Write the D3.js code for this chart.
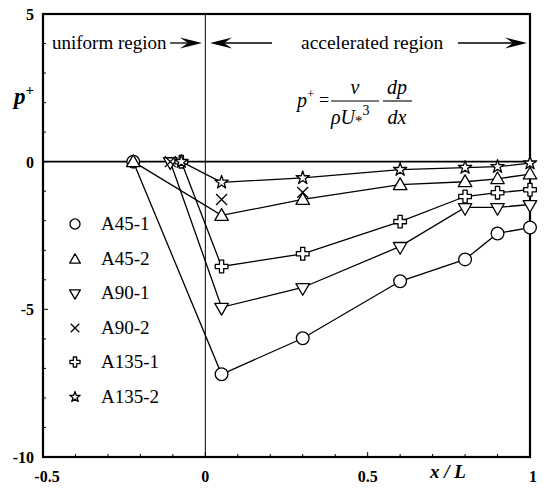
<!DOCTYPE html>
<html><head><meta charset="utf-8">
<script src="https://cdn.jsdelivr.net/npm/d3@7"></script>
<style>body{margin:0;background:#fff}svg{display:block}</style>
</head><body>
<svg id="c" width="548" height="488"></svg>
<script>
const seriesNames = ["A45-1","A45-2","A90-1","A90-2","A135-1","A135-2"];
const markerTypes = ["circle","triUp","triDown","times","cross","star"];
const connected = [true,true,true,false,true,true];
const xA45 = [-0.222,0.05,0.3,0.6,0.8,0.9,1.0];
const xA90 = [-0.108,0.05,0.3,0.6,0.8,0.9,1.0];
const xA135 = [-0.074,0.05,0.3,0.6,0.8,0.9,1.0];
const xA90b = [-0.108,0.05,0.3];
const yA45_1 = [0,-7.2,-5.98,-4.05,-3.31,-2.43,-2.23];
const yA45_2 = [0,-1.82,-1.28,-0.78,-0.68,-0.58,-0.42];
const yA90_1 = [0,-4.93,-4.26,-2.87,-1.55,-1.55,-1.45];
const yA90_2 = [0,-1.28,-1.04];
const yA135_1 = [0,-3.55,-3.12,-2.03,-1.18,-1.05,-0.95];
const yA135_2 = [0,-0.7,-0.55,-0.27,-0.2,-0.17,-0.05];
const xTickLabels = ["-0.5","0","0.5","1"];
const yTickLabels = ["5","0","-5","-10"];
const xTickVals = [-0.5,0,0.5,1];
const yTickVals = [5,0,-5,-10];

const seriesX = [xA45,xA45,xA90,xA90b,xA135,xA135];
const seriesY = [yA45_1,yA45_2,yA90_1,yA90_2,yA135_1,yA135_2];

const svg = d3.select("#c");
const L=43,R=530,T=14,B=457;
const x = d3.scaleLinear().domain([-0.5,1]).range([L,R]);
const y = d3.scaleLinear().domain([-10,5]).range([B,T]);
const serif = "'Liberation Serif','Times New Roman',serif";

// reference lines
svg.append("line").attr("x1",x(0)).attr("x2",x(0)).attr("y1",T).attr("y2",B)
  .attr("stroke","#000").attr("stroke-width",1);
svg.append("line").attr("x1",L).attr("x2",R).attr("y1",y(0)).attr("y2",y(0))
  .attr("stroke","#000").attr("stroke-width",1.8);

// minor ticks
const gTicks = svg.append("g").attr("stroke","#000").attr("stroke-width",1);
d3.range(-10,6,1).forEach(v=>{
  const len = (v%5===0)?5:3;
  gTicks.append("line").attr("x1",L).attr("x2",L+len).attr("y1",y(v)).attr("y2",y(v));
});
d3.range(-0.5,1.0001,0.1).forEach(v=>{
  const r = Math.round(v*10);
  const len = (r%5===0)?5:3;
  gTicks.append("line").attr("x1",x(v)).attr("x2",x(v)).attr("y1",B).attr("y2",B-len);
});

// frame
svg.append("rect").attr("x",L).attr("y",T).attr("width",R-L).attr("height",B-T)
  .attr("fill","none").attr("stroke","#000").attr("stroke-width",2.2);

// tick labels
svg.append("g").selectAll("text").data(yTickVals).join("text")
  .attr("x",34).attr("y",d=>y(d)+6).attr("text-anchor","end")
  .attr("font-family",serif).attr("font-size",16).attr("font-weight","bold")
  .text((d,i)=>yTickLabels[i]);
svg.append("g").selectAll("text").data(xTickVals).join("text")
  .attr("x",(d,i)=>x(d)+(i===0?4:(i===3?3:0))).attr("y",482).attr("text-anchor","middle")
  .attr("font-family",serif).attr("font-size",16).attr("font-weight","bold")
  .text((d,i)=>xTickLabels[i]);

// axis titles
svg.append("text").attr("x",448).attr("y",478).attr("text-anchor","middle")
  .attr("font-family",serif).attr("font-style","italic").attr("font-size",19).attr("font-weight","bold")
  .text("x / L");
const pt = svg.append("text").attr("x",14).attr("y",104)
  .attr("font-family",serif).attr("font-style","italic").attr("font-size",23).attr("font-weight","bold");
pt.append("tspan").text("p");
pt.append("tspan").attr("dy",-9).attr("font-size",15).attr("font-style","normal").text("+");

// region annotations
svg.append("text").attr("x",52).attr("y",49).attr("font-family",serif).attr("font-size",19)
  .text("uniform region");
svg.append("text").attr("x",301).attr("y",49).attr("font-family",serif).attr("font-size",19.5)
  .text("accelerated region");
function arrow(x1,x2,yy){
  const dir = Math.sign(x2-x1);
  svg.append("line").attr("x1",x1).attr("x2",x2-dir*4).attr("y1",yy).attr("y2",yy)
    .attr("stroke","#000").attr("stroke-width",1.3);
  svg.append("path")
    .attr("d",`M${x2},${yy} L${x2-dir*22},${yy-5.5} L${x2-dir*14},${yy} L${x2-dir*22},${yy+5.5} Z`)
    .attr("fill","#000");
}
arrow(170,202,43);
arrow(272,210,43);
arrow(458,527,43);

// formula
const fg = svg.append("g").attr("font-family",serif).attr("font-size",20);
const fp = fg.append("text").attr("x",297).attr("y",107).attr("font-style","italic");
fp.append("tspan").text("p");
fp.append("tspan").attr("dy",-9).attr("font-size",13).attr("font-style","normal").text("+");
fg.append("text").attr("x",319).attr("y",106).attr("font-size",18).text("=");
fg.append("line").attr("x1",331).attr("x2",379).attr("y1",101).attr("y2",101).attr("stroke","#000").attr("stroke-width",1.1);
fg.append("line").attr("x1",383).attr("x2",412).attr("y1",101).attr("y2",101).attr("stroke","#000").attr("stroke-width",1.1);
fg.append("text").attr("x",355).attr("y",94).attr("text-anchor","middle").attr("font-style","italic").text("ν");
const den = fg.append("text").attr("x",331).attr("y",124).attr("font-style","italic");
den.append("tspan").text("ρU");
den.append("tspan").attr("font-style","normal").attr("font-size",15).attr("dy",2).text("*");
den.append("tspan").attr("font-style","normal").attr("font-size",14).attr("dy",-11).text("3");
fg.append("text").attr("x",397).attr("y",94).attr("text-anchor","middle").attr("font-style","italic").text("dp");
fg.append("text").attr("x",397).attr("y",124).attr("text-anchor","middle").attr("font-style","italic").text("dx");

// markers
function markerPath(type, s){
  switch(type){
    case "circle": return d3.symbol(d3.symbolCircle, Math.PI*s*s*0.28)();
    case "triUp": return d3.symbol(d3.symbolTriangle, s*s*0.55)();
    case "triDown": return d3.symbol(d3.symbolTriangle, s*s*0.55)();
    case "times": return d3.symbol(d3.symbolTimes, s*s*0.55)();
    case "cross": return d3.symbol(d3.symbolCross, s*s*0.62)();
    case "star": return d3.symbol(d3.symbolStar, s*s*0.38)();
  }
}
function drawMarker(g, type, cx, cy, s){
  const p = g.append("path").attr("d",markerPath(type,s))
    .attr("transform",`translate(${cx},${cy})`+(type==="triDown"?" rotate(180)":"")+(type==="triUp"?" translate(0,1)":""))
    .attr("fill", type==="times"?"none":"#fff").attr("stroke","#000")
    .attr("stroke-width",1.3).attr("stroke-linejoin","round");
  return p;
}

const line = d3.line().x(d=>x(d[0])).y(d=>y(d[1]));
const gData = svg.append("g");
seriesNames.forEach((name,i)=>{
  const pts = seriesX[i].map((xv,j)=>[xv,seriesY[i][j]]);
  if(connected[i]){
    gData.append("path").datum(pts).attr("d",line).attr("fill","none")
      .attr("stroke","#000").attr("stroke-width",1.3);
  }
});
seriesNames.forEach((name,i)=>{
  const pts = seriesX[i].map((xv,j)=>[xv,seriesY[i][j]]);
  pts.forEach(p=>drawMarker(gData, markerTypes[i], x(p[0]), y(p[1]), 12));
});

// legend
const legY = [224,259,293,328,362,397];
const gl = svg.append("g");
seriesNames.forEach((name,i)=>{
  drawMarker(gl, markerTypes[i], 75, legY[i], 9.5);
  gl.append("text").attr("x",101).attr("y",legY[i]+6).attr("font-family",serif)
    .attr("font-size",19).text(name);
});
</script>
</body></html>
